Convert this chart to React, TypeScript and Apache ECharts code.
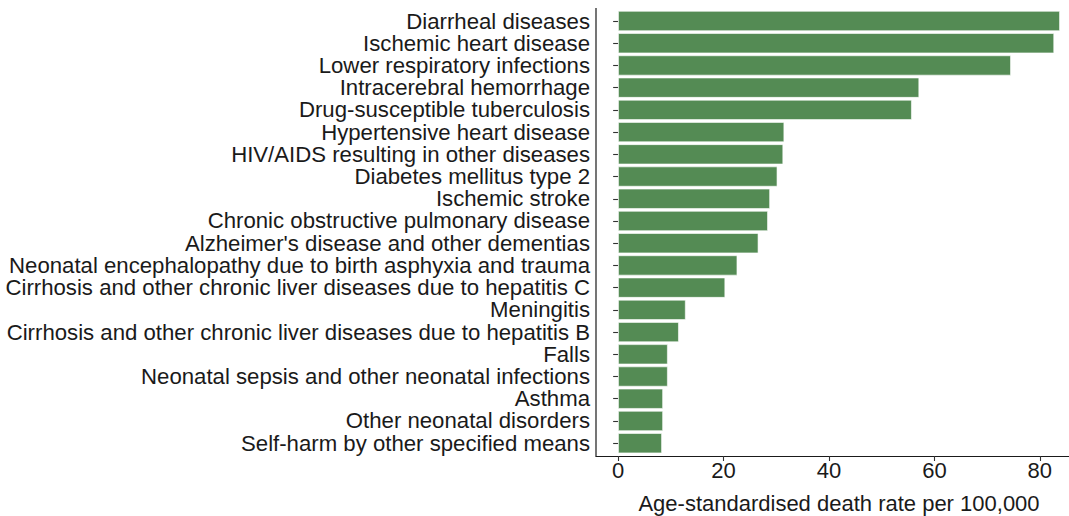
import React, { useEffect, useRef } from "react";
import * as echarts from "echarts";

const categories: string[] = [
  "Diarrheal diseases",
  "Ischemic heart disease",
  "Lower respiratory infections",
  "Intracerebral hemorrhage",
  "Drug-susceptible tuberculosis",
  "Hypertensive heart disease",
  "HIV/AIDS resulting in other diseases",
  "Diabetes mellitus type 2",
  "Ischemic stroke",
  "Chronic obstructive pulmonary disease",
  "Alzheimer's disease and other dementias",
  "Neonatal encephalopathy due to birth asphyxia and trauma",
  "Cirrhosis and other chronic liver diseases due to hepatitis C",
  "Meningitis",
  "Cirrhosis and other chronic liver diseases due to hepatitis B",
  "Falls",
  "Neonatal sepsis and other neonatal infections",
  "Asthma",
  "Other neonatal disorders",
  "Self-harm by other specified means",
];

const deathRates: number[] = [
  83.8, 82.7, 74.5, 57.1, 55.7, 31.5, 31.3, 30.2, 28.8, 28.4, 26.6, 22.6, 20.3,
  12.8, 11.5, 9.4, 9.4, 8.5, 8.5, 8.3,
];

const xTicks: number[] = [0, 20, 40, 60, 80];
const xAxisTitle = "Age-standardised death rate per 100,000";

export default function App() {
  const ref = useRef<HTMLDivElement>(null);
  useEffect(() => {
    document.body.style.margin = "0";
    if (!ref.current) return;
    const chart = echarts.init(ref.current, undefined, { renderer: "svg" });
    const font = "Liberation Sans, Arial, sans-serif";
    chart.setOption({
      animation: false,
      backgroundColor: "#ffffff",
      grid: {
        left: 596,
        top: 9.9,
        width: 486,
        height: 444.4,
        containLabel: false,
        outerBoundsMode: "none",
      },
      xAxis: {
        type: "value",
        min: -4.2,
        max: 88.0,
        offset: 1.7,
        splitLine: { show: false },
        axisLine: { show: true, onZero: false, lineStyle: { color: "#1a1a1a", width: 1.2 } },
        axisTick: { show: true, length: 5, customValues: xTicks, lineStyle: { color: "#333", width: 1.1 } },
        axisLabel: {
          customValues: xTicks,
          color: "#1a1a1a",
          fontSize: 22,
          fontFamily: font,
          margin: 3,
        },
        name: xAxisTitle,
        nameLocation: "middle",
        nameGap: 36,
        nameMoveOverlap: false,
        nameTextStyle: { color: "#1a1a1a", fontSize: 22, fontFamily: font },
      },
      yAxis: {
        type: "category",
        data: categories,
        inverse: true,
        axisLine: { show: false },
        axisTick: { show: true, length: 5, alignWithLabel: true, lineStyle: { color: "#333", width: 1.1 } },
        axisLabel: {
          color: "#1a1a1a",
          fontSize: 22.2,
          lineHeight: 20,
          fontFamily: font,
          margin: 6,
          interval: 0,
        },
        splitLine: { show: false },
      },
      graphic: [
        {
          type: "line",
          shape: { x1: 596, y1: 8, x2: 596, y2: 456.5 },
          style: { stroke: "#1a1a1a", lineWidth: 1.2 },
          z: 100,
        },
      ],
      series: [
        {
          type: "bar",
          data: deathRates,
          barWidth: "90%",
          itemStyle: { color: "#548B54", borderColor: "#ffffff", borderWidth: 0.6 },
        },
      ],
    });
    return () => chart.dispose();
  }, []);
  return <div ref={ref} style={{ width: 1069, height: 516 }} />;
}
